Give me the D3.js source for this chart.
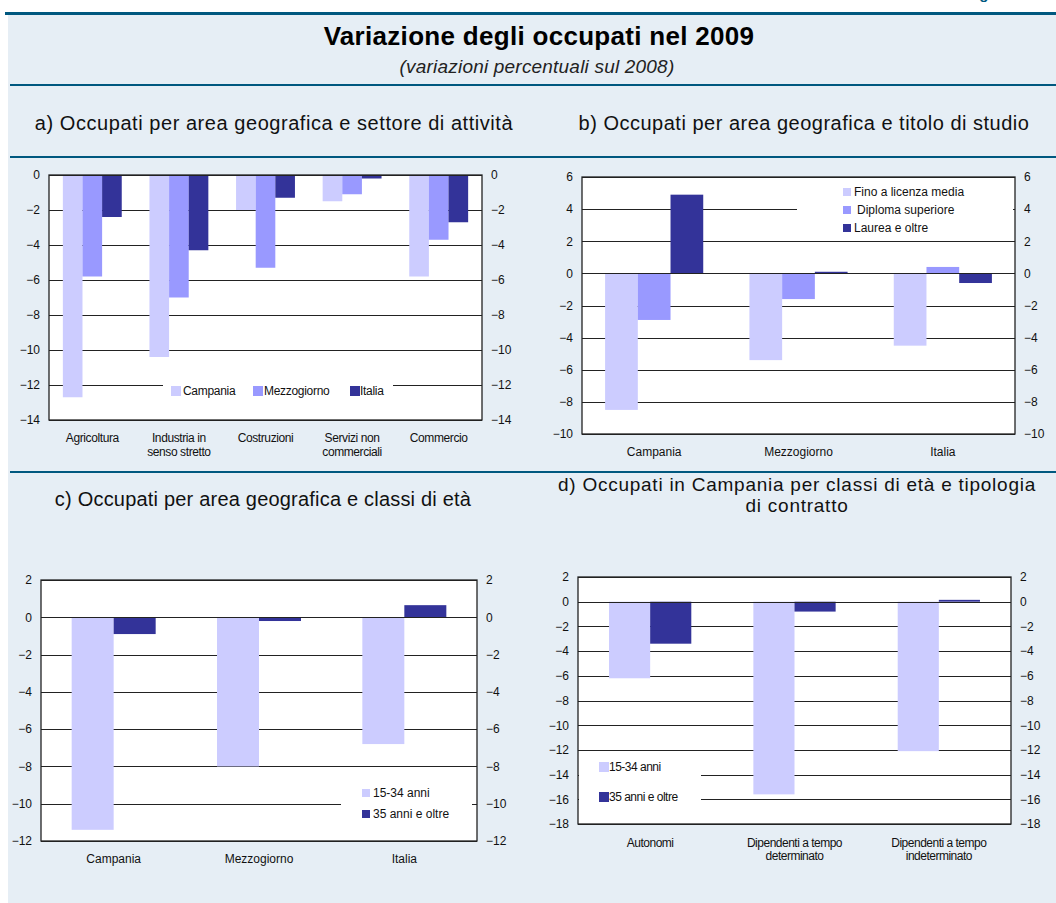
<!DOCTYPE html>
<html>
<head>
<meta charset="utf-8">
<script src="https://cdn.jsdelivr.net/npm/d3@7/dist/d3.min.js"></script>
<style>
  html, body { margin: 0; padding: 0; background: #ffffff; }
  svg { display: block; font-family: Arial, "Liberation Sans", sans-serif; }
</style>
</head>
<body>
<svg id="chart" width="1056" height="903"></svg>
<script>
// ---------------- DATA ----------------
// Panel a
const catA = ["Agricoltura", "Industria in\nsenso stretto", "Costruzioni", "Servizi non\ncommerciali", "Commercio"];
const seriesA = ["Campania", "Mezzogiorno", "Italia"];
const campaniaA = [-12.7, -10.4, -2.0, -1.5, -5.8];
const mezzogiornoA = [-5.8, -7.0, -5.3, -1.1, -3.7];
const italiaA = [-2.4, -4.3, -1.3, -0.2, -2.7];
const ticksA = [0, -2, -4, -6, -8, -10, -12, -14];

// Panel b
const catB = ["Campania", "Mezzogiorno", "Italia"];
const seriesB = ["Fino a licenza media", "Diploma superiore", "Laurea e oltre"];
const finoB = [-8.5, -5.4, -4.5];
const diplomaB = [-2.9, -1.6, 0.4];
const laureaB = [4.9, 0.1, -0.6];
const ticksB = [6, 4, 2, 0, -2, -4, -6, -8, -10];

// Panel c
const catC = ["Campania", "Mezzogiorno", "Italia"];
const seriesC = ["15-34 anni", "35 anni e oltre"];
const giovaniC = [-11.4, -8.0, -6.8];
const anzianiC = [-0.9, -0.2, 0.65];
const ticksC = [2, 0, -2, -4, -6, -8, -10, -12];

// Panel d
const catD = ["Autonomi", "Dipendenti a tempo\ndeterminato", "Dipendenti a tempo\nindeterminato"];
const seriesD = ["15-34 anni", "35 anni e oltre"];
const giovaniD = [-6.2, -15.6, -12.1];
const anzianiD = [-3.4, -0.8, 0.15];
const ticksD = [2, 0, -2, -4, -6, -8, -10, -12, -14, -16, -18];

// ---------------- STYLE ----------------
const C_LIGHT = "#ccccff", C_MID = "#9999ff", C_DARK = "#333399";
const BG = "#e6eef5", RULE = "#00587f";

const svg = d3.select("#chart");

// background + rules
svg.append("rect").attr("x", 8).attr("y", 15).attr("width", 1048).attr("height", 888).attr("fill", BG);
svg.append("text").attr("x", 966).attr("y", -1).attr("font-size", 15).attr("font-weight", "bold")
   .attr("fill", RULE).text("Figura");
svg.append("rect").attr("x", 5).attr("y", 12).attr("width", 1051).attr("height", 3).attr("fill", RULE);
[[84, 2], [156, 2], [471, 2]].forEach(([y, h]) => {
  svg.append("rect").attr("x", 10).attr("y", y).attr("width", 1046).attr("height", h).attr("fill", RULE);
});

// titles
svg.append("text").attr("x", 539).attr("y", 45).attr("text-anchor", "middle")
   .attr("font-size", 26).attr("font-weight", "bold").attr("letter-spacing", 0.3).attr("fill", "#000")
   .text("Variazione degli occupati nel 2009");
svg.append("text").attr("x", 537).attr("y", 73).attr("text-anchor", "middle")
   .attr("font-size", 19).attr("font-style", "italic").attr("letter-spacing", 0.2).attr("fill", "#222")
   .text("(variazioni percentuali sul 2008)");

function panelTitle(lines, cx, y0, lh, ls, fs) {
  const t = svg.append("text").attr("text-anchor", "middle").attr("font-size", fs || 20)
    .attr("letter-spacing", ls).attr("fill", "#111");
  lines.forEach((l, i) => t.append("tspan").attr("x", cx).attr("y", y0 + i * lh).text(l));
}
panelTitle(["a) Occupati per area geografica e settore di attività"], 274, 130, 21, 0.55);
panelTitle(["b) Occupati per area geografica e titolo di studio"], 804, 130, 21, 0.5);
panelTitle(["c) Occupati per area geografica e classi di età"], 263, 506, 21, 0.2);
panelTitle(["d) Occupati in Campania per classi di età e tipologia", "di contratto"], 797, 491, 21, 0.75, 19);

// ---------------- PANEL DRAWER ----------------
function drawPanel(o) {
  const g = svg.append("g");
  const y = d3.scaleLinear().domain([o.ticks[o.ticks.length - 1], o.ticks[0]]).range([o.y1, o.y0]);
  const x = d3.scaleBand().domain(o.cats).range([o.x0, o.x1]).padding(0);
  const bw = x.bandwidth();
  const xs = d3.scaleBand().domain(o.series).range([0, bw * o.ratio]).padding(0);

  // plot background
  g.append("rect").attr("x", o.x0).attr("y", o.y0).attr("width", o.x1 - o.x0).attr("height", o.y1 - o.y0)
    .attr("fill", "#fff");

  // gridlines
  g.append("g").selectAll("line").data(o.ticks).join("line")
    .attr("x1", o.x0).attr("x2", o.x1)
    .attr("y1", d => Math.round(y(d)) + 0.5).attr("y2", d => Math.round(y(d)) + 0.5)
    .attr("stroke", "#222").attr("stroke-width", 1);

  // bars
  o.series.forEach((s, si) => {
    g.append("g").selectAll("rect").data(o.values[si]).join("rect")
      .attr("x", (d, i) => x(o.cats[i]) + bw * (1 - o.ratio) / 2 + xs(s))
      .attr("width", xs.bandwidth())
      .attr("y", d => y(Math.max(0, d)))
      .attr("height", d => Math.abs(y(d) - y(0)))
      .attr("fill", o.colors[si]);
  });

  // legend
  const L = o.legend;
  g.append("rect").attr("x", L.box[0]).attr("y", L.box[1]).attr("width", L.box[2]).attr("height", L.box[3])
    .attr("fill", "#fff");
  o.series.forEach((s, si) => {
    const p = L.pos[si];
    g.append("rect").attr("x", p[0]).attr("y", p[1] - L.sw / 2).attr("width", L.sw).attr("height", L.sw)
      .attr("fill", o.colors[si]);
    g.append("text").attr("x", p[2]).attr("y", p[1]).attr("dy", "0.35em")
      .attr("font-size", 12).attr("fill", "#111").attr("letter-spacing", L.ls || 0).text(s);
  });

  // zero line on top
  g.append("line").attr("x1", o.x0).attr("x2", o.x1)
    .attr("y1", Math.round(y(0)) + 0.5).attr("y2", Math.round(y(0)) + 0.5)
    .attr("stroke", "#222").attr("stroke-width", 1);

  // frame
  g.append("rect").attr("x", o.x0).attr("y", o.y0).attr("width", o.x1 - o.x0).attr("height", o.y1 - o.y0)
    .attr("fill", "none").attr("stroke", "#222").attr("stroke-width", 1.3);

  // axes
  const left = d3.axisLeft(y).tickValues(o.ticks).tickSize(0).tickPadding(9).tickFormat(d3.format("d"));
  const right = d3.axisRight(y).tickValues(o.ticks).tickSize(0).tickPadding(9).tickFormat(d3.format("d"));
  [[left, o.x0], [right, o.x1]].forEach(([ax, xx]) => {
    const a = g.append("g").attr("transform", `translate(${xx},0)`).call(ax);
    a.select(".domain").remove();
    a.selectAll("text").attr("font-size", 12).attr("font-family", "Arial, 'Liberation Sans', sans-serif")
      .attr("fill", "#111");
  });

  // category labels
  const bottom = d3.axisBottom(x).tickSize(0).tickFormat("");
  const ba = g.append("g").attr("transform", `translate(0,${o.y1})`).call(bottom);
  ba.select(".domain").remove();
  o.cats.forEach(c => {
    const t = g.append("text").attr("text-anchor", "middle").attr("font-size", 12).attr("fill", "#111")
      .attr("letter-spacing", o.xls || 0);
    c.split("\n").forEach((l, i) => t.append("tspan").attr("x", x(c) + bw / 2)
      .attr("y", o.y1 + o.xlab + i * o.xlh).text(l));
  });
}

drawPanel({
  cats: catA, series: seriesA, values: [campaniaA, mezzogiornoA, italiaA],
  colors: [C_LIGHT, C_MID, C_DARK], ticks: ticksA,
  x0: 49, x1: 482, y0: 175, y1: 420, ratio: 0.68, xlab: 22, xlh: 14, xls: -0.4,
  legend: { box: [163, 381, 230, 21], sw: 10,
            pos: [[171, 391, 183], [253, 391, 264], [350, 391, 360]], ls: -0.3 }
});

drawPanel({
  cats: catB, series: seriesB, values: [finoB, diplomaB, laureaB],
  colors: [C_LIGHT, C_MID, C_DARK], ticks: ticksB,
  x0: 582, x1: 1015, y0: 177, y1: 434, ratio: 0.68, xlab: 22, xlh: 14,
  legend: { box: [797, 184, 216, 52], sw: 8,
            pos: [[843, 192, 854], [843, 210, 857], [843, 228, 854]] }
});

drawPanel({
  cats: catC, series: seriesC, values: [giovaniC, anzianiC],
  colors: [C_LIGHT, C_DARK], ticks: ticksC,
  x0: 41, x1: 477, y0: 580, y1: 841, ratio: 0.578, xlab: 22, xlh: 14,
  legend: { box: [341, 780, 131, 46], sw: 8,
            pos: [[362, 793, 373], [362, 814, 373]] }
});

drawPanel({
  cats: catD, series: seriesD, values: [giovaniD, anzianiD],
  colors: [C_LIGHT, C_DARK], ticks: ticksD,
  x0: 578, x1: 1011, y0: 577, y1: 824, ratio: 0.57, xlab: 23, xlh: 13, xls: -0.5,
  legend: { box: [579, 755, 122, 52], sw: 10,
            pos: [[599, 767, 609], [599, 797, 609]], ls: -0.5 }
});
</script>
</body>
</html>
